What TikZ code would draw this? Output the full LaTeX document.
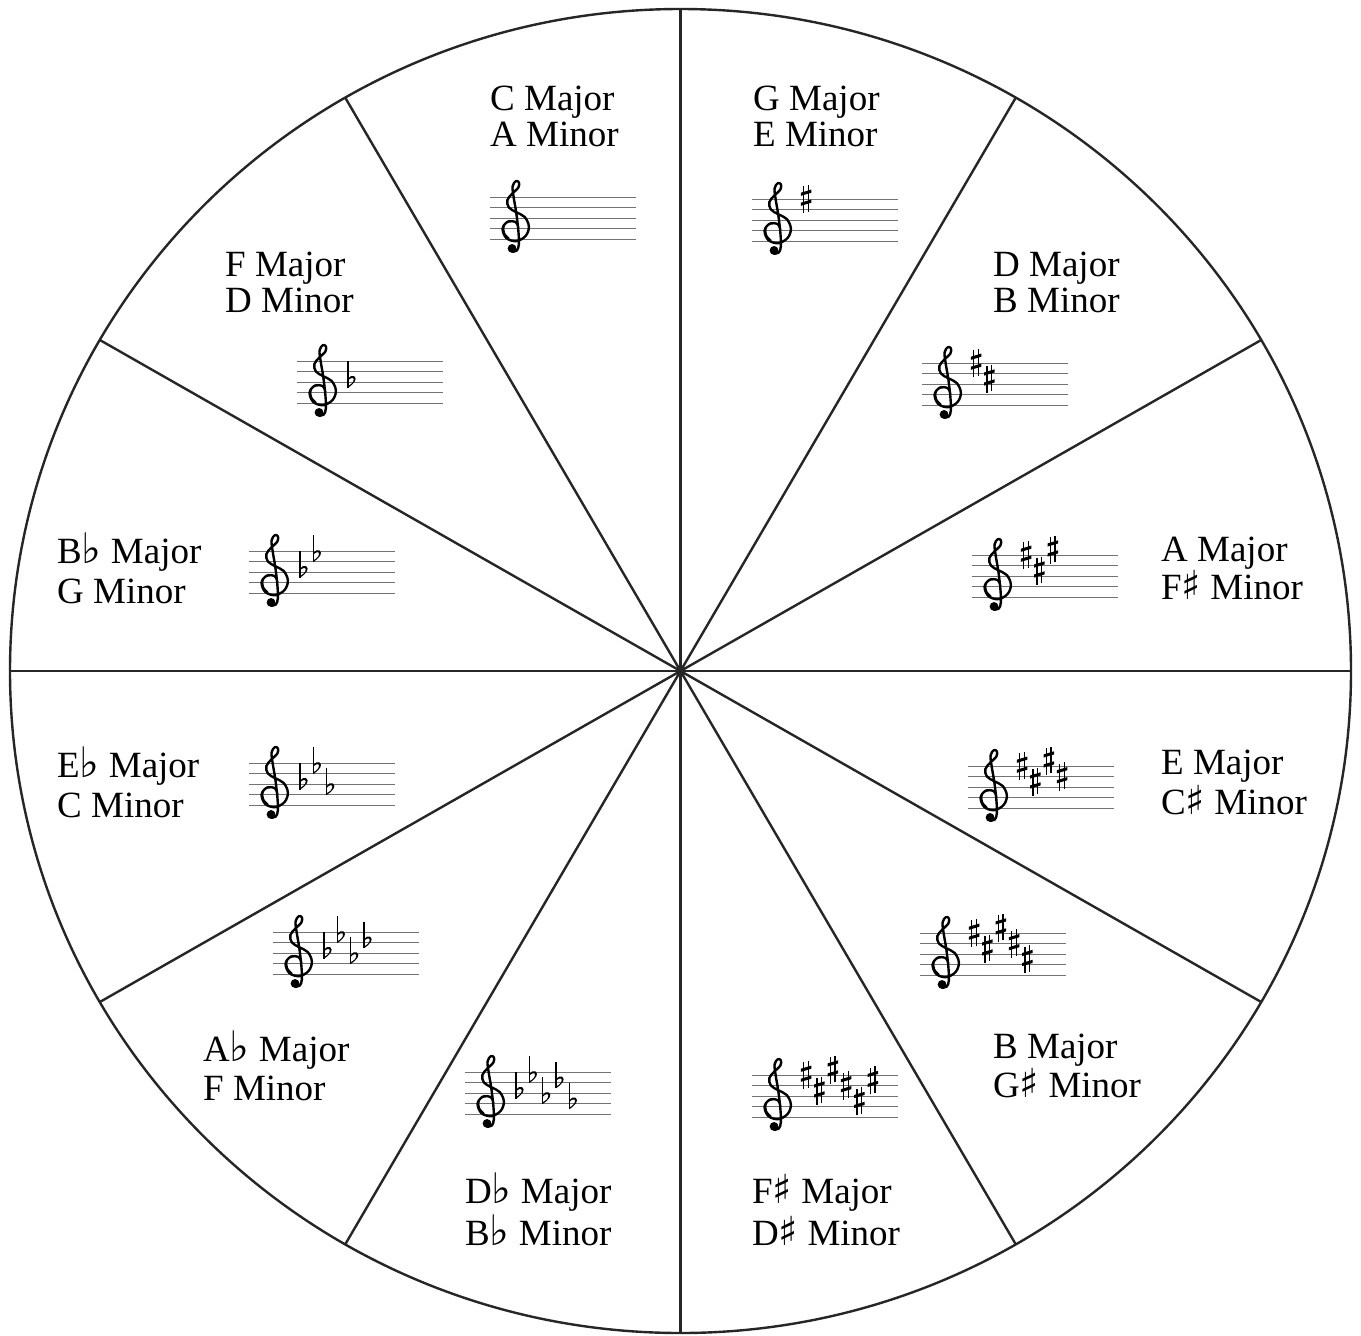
\documentclass[tikz,border=0pt]{standalone}
\usepackage{fontspec}
\setmainfont{Liberation Serif}
\newfontfamily\symfont{DejaVu Sans}
\newcommand{\fl}{{\symfont\fontsize{42}{42}\selectfont ♭}}
\newcommand{\sh}{{\symfont\fontsize{40}{40}\selectfont ♯}}
\tikzset{
  wheel/.style={line width=2.4pt, draw=black!85},
  lbl/.style={anchor=base west, inner sep=0pt, font=\fontsize{37}{40}\selectfont},
  staffline/.style={line width=1pt, draw=black!55},
  clef/.pic={
    \draw[line width=2.4pt, line cap=round, line join=round]
      plot[smooth, tension=0.6] coordinates {(0.3,1.05) (0.05,1.6) (-0.7,1.65) (-1.2,1.0) (-0.85,0.1) (0.1,-0.2) (1.0,0.3) (1.3,1.2) (0.9,2.1) (0.1,2.55) (-0.6,3.0) (-0.75,3.7) (-0.3,4.3) (0.3,4.9) (0.35,5.4) (0.05,5.5) (-0.25,5.0) (-0.15,4.0) (0.1,2.5) (0.3,0.8) (0.35,-0.5) (0.15,-1.1) (-0.3,-1.2)};
    \draw[line width=1.6pt, line cap=round]
      plot[smooth, tension=0.6] coordinates {(-0.5,1.75) (-1.05,1.35) (-1.05,0.6) (-0.6,0.05)};
    \fill (-0.3,-0.9) circle (0.42);
  },
  sharp/.pic={
    \draw[line width=1.3pt] (-0.22,-1.35) -- (-0.22,1.2);
    \draw[line width=1.3pt] (0.22,-1.2) -- (0.22,1.35);
    \fill (-0.5,0.3) -- (0.5,0.6) -- (0.5,0.9) -- (-0.5,0.6) -- cycle;
    \fill (-0.5,-0.65) -- (0.5,-0.35) -- (0.5,-0.05) -- (-0.5,-0.35) -- cycle;
  },
  flat/.pic={
    \draw[line width=1.2pt] (-0.3,2.0) -- (-0.3,-0.55);
    \fill (-0.3,-0.55) .. controls (0.3,-0.15) and (0.65,0.3) .. (0.3,0.55)
      .. controls (0.1,0.7) and (-0.15,0.5) .. (-0.3,0.3) -- (-0.3,0.12)
      .. controls (-0.1,0.4) and (0.25,0.5) .. (0.25,0.25)
      .. controls (0.25,0.0) and (0.0,-0.25) .. (-0.3,-0.38) -- cycle;
  }
}
% staff with clef: #1 left x, #2 bottom line y
\newcommand{\staffat}[2]{%
  \begin{scope}[shift={(#1,#2)}, x=10.5pt, y=10.5pt]
    \foreach \i in {0,...,4} \draw[staffline] (0,\i) -- (13.9,\i);
    \path (2.4,0) pic {clef};
  \end{scope}}
% accidentals: #1 left x, #2 bottom y, #3 type, #4 positions
\newcommand{\accat}[4]{%
  \begin{scope}[shift={(#1,#2)}, x=10.5pt, y=10.5pt]
    \foreach \p [count=\k from 0] in {#4} \path (5.15+1.27*\k, \p/2) pic {#3};
  \end{scope}}
\begin{document}
\begin{tikzpicture}[x=1pt, y=-1pt]
\useasboundingbox (0,0) rectangle (1361,1336);
\fill[white] (0,0) rectangle (1361,1336);
\coordinate (O) at (680.5,671);
\foreach \a in {0,30,...,330} {
  \path (O) ++(\a:670.5 and 662) coordinate (e\a);
  \draw[wheel] (O) -- (e\a);
}
\draw[wheel] (O) ellipse [x radius=670.5, y radius=662];

% 1 C
\node[lbl] (c1) at (490,110) {C Major};
\node[lbl] (c2) at (490,146) {A Minor};
\staffat{490}{239}
% 2 G
\node[lbl] (g1) at (753,110) {G Major};
\node[lbl] (g2) at (753,146) {E Minor};
\staffat{752}{241}\accat{752}{241}{sharp}{8}
% 3 D
\node[lbl] (d1) at (993,276) {D Major};
\node[lbl] (d2) at (993,312) {B Minor};
\staffat{922}{405}\accat{922}{405}{sharp}{8,5}
% 4 A
\node[lbl] (a1) at (1161,561) {A Major};
\node[lbl] (a2) at (1161,599) {F\sh\ Minor};
\staffat{972}{597}\accat{972}{597}{sharp}{8,5,9}
% 5 E
\node[lbl] (e1) at (1161,774) {E Major};
\node[lbl] (e2) at (1161,814) {C\sh\ Minor};
\staffat{968}{808}\accat{968}{808}{sharp}{8,5,9,6}
% 6 B
\node[lbl] (b1) at (993,1058) {B Major};
\node[lbl] (b2) at (993,1097) {G\sh\ Minor};
\staffat{920}{975}\accat{920}{975}{sharp}{8,5,9,6,3}
% 7 F#
\node[lbl] (fs1) at (752,1203) {F\sh\ Major};
\node[lbl] (fs2) at (752,1245) {D\sh\ Minor};
\staffat{752}{1117}\accat{752}{1117}{sharp}{8,5,9,6,3,7}
% 8 Db
\node[lbl] (db1) at (465,1203) {D\fl\ Major};
\node[lbl] (db2) at (465,1245) {B\fl\ Minor};
\staffat{465}{1114}\accat{465}{1114}{flat}{4,7,3,6,2}
% 9 Ab
\node[lbl] (ab1) at (203,1061) {A\fl\ Major};
\node[lbl] (ab2) at (203,1100) {F Minor};
\staffat{273}{974}\accat{273}{974}{flat}{4,7,3,6}
% 10 Eb
\node[lbl] (eb1) at (57,777) {E\fl\ Major};
\node[lbl] (eb2) at (57,817) {C Minor};
\staffat{249}{805}\accat{249}{805}{flat}{4,7,3}
% 11 Bb
\node[lbl] (bb1) at (57,563) {B\fl\ Major};
\node[lbl] (bb2) at (57,603) {G Minor};
\staffat{249}{593}\accat{249}{593}{flat}{4,7}
% 12 F
\node[lbl] (f1) at (225,276) {F Major};
\node[lbl] (f2) at (225,312) {D Minor};
\staffat{297}{403}\accat{297}{403}{flat}{4}
\end{tikzpicture}
\end{document}
